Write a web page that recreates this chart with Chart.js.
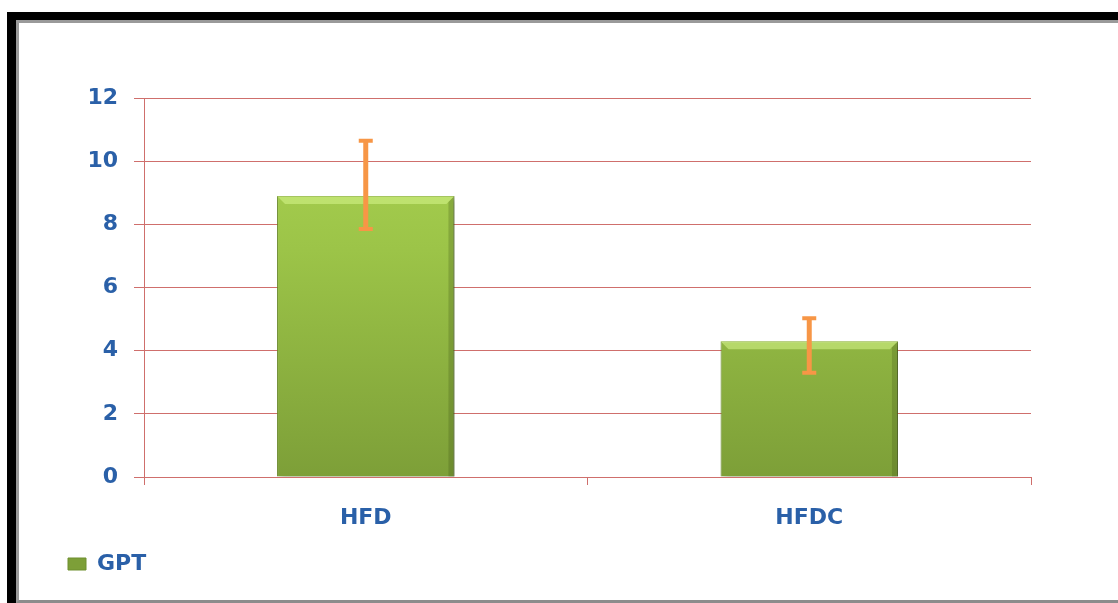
<!DOCTYPE html>
<html>
<head>
<meta charset="utf-8">
<script src="https://cdn.jsdelivr.net/npm/chart.js@4/dist/chart.umd.min.js"></script>
<style>
  html, body { margin: 0; padding: 0; background: #fff; overflow: hidden; }
  #outer { position: absolute; left: 7px; top: 12px; width: 1200px; height: 700px;
           border-top: 8px solid #000; border-left: 9px solid #000; }
  #inner { position: absolute; left: 0; top: 0; width: 1200px; height: 577px;
           border-top: 3px solid #9a9a9a; border-left: 3px solid #9a9a9a; border-bottom: 3px solid #8c8c8c; }
  #wrap { position: absolute; left: 0; top: 0; width: 1118px; height: 603px; }
</style>
</head>
<body>
<div id="outer"><div id="inner"></div></div>
<div id="wrap"><canvas id="gptChart"></canvas></div>
<script>
const categories = ["HFD", "HFDC"];
const gptValues = [8.9, 4.3];
const errorHigh = [10.65, 5.03];
const errorLow = [7.85, 3.3];
const yTicks = [0, 2, 4, 6, 8, 10, 12];

const textBlue = "#2a60a8";
const gridRed = "#cf6f6c";
const labelFont = { family: "DejaVu Sans", size: 22, weight: "bold" };

function barFill(context) {
    const area = context.chart.chartArea;
    if (!area) return "#96c147";
    const g = context.chart.ctx.createLinearGradient(0, area.top, 0, area.bottom);
    g.addColorStop(0, "#acd553");
    g.addColorStop(0.4, "#9cc448");
    g.addColorStop(1, "#7d9f38");
    return g;
}

// soft shadow under the bars
const barShadow = {
    id: "barShadow",
    beforeDatasetDraw(chart) {
        const ctx = chart.ctx;
        ctx.save();
        ctx.shadowColor = "rgba(0,0,0,0.35)";
        ctx.shadowBlur = 6;
        ctx.shadowOffsetX = 3;
        ctx.shadowOffsetY = 3;
    },
    afterDatasetDraw(chart) {
        chart.ctx.restore();
        // bevel highlight along the top
        const ctx = chart.ctx;
        chart.getDatasetMeta(0).data.forEach(function (bar) {
            const half = bar.width / 2;
            ctx.save();
            ctx.fillStyle = "rgba(215,245,140,0.55)";
            ctx.beginPath();
            ctx.moveTo(bar.x - half, bar.y);
            ctx.lineTo(bar.x + half, bar.y);
            ctx.lineTo(bar.x + half - 8, bar.y + 8);
            ctx.lineTo(bar.x - half + 8, bar.y + 8);
            ctx.closePath();
            ctx.fill();
            ctx.fillStyle = "rgba(60,80,20,0.25)";
            ctx.beginPath();
            ctx.moveTo(bar.x + half, bar.y);
            ctx.lineTo(bar.x + half, bar.base);
            ctx.lineTo(bar.x + half - 6, bar.base);
            ctx.lineTo(bar.x + half - 6, bar.y + 6);
            ctx.closePath();
            ctx.fill();
            ctx.restore();
        });
    }
};

const errorBars = {
    id: "errorBars",
    afterDatasetsDraw(chart) {
        const ctx = chart.ctx;
        const meta = chart.getDatasetMeta(0);
        const y = chart.scales.y;
        ctx.save();
        ctx.strokeStyle = "#f79646";
        ctx.lineCap = "butt";
        meta.data.forEach(function (bar, i) {
            const top = y.getPixelForValue(errorHigh[i]);
            const bottom = y.getPixelForValue(errorLow[i]);
            ctx.lineWidth = 5;
            ctx.beginPath();
            ctx.moveTo(bar.x, top);
            ctx.lineTo(bar.x, bottom);
            ctx.stroke();
            ctx.lineWidth = 4;
            ctx.beginPath();
            ctx.moveTo(bar.x - 7, top);
            ctx.lineTo(bar.x + 7, top);
            ctx.moveTo(bar.x - 7, bottom);
            ctx.lineTo(bar.x + 7, bottom);
            ctx.stroke();
        });
        ctx.restore();
    }
};

new Chart(document.getElementById("gptChart"), {
    type: "bar",
    data: {
        labels: categories,
        datasets: [
            {
                label: "GPT",
                data: gptValues,
                backgroundColor: barFill,
                borderColor: "#6e8f2e",
                borderWidth: 1,
                barPercentage: 0.4,
                categoryPercentage: 1.0
            }
        ]
    },
    options: {
        responsive: true,
        maintainAspectRatio: false,
        animation: false,
        layout: {
            padding: { left: 60, top: 98, right: 87, bottom: 18 }
        },
        scales: {
            x: {
                grid: {
                    drawOnChartArea: false,
                    drawTicks: true,
                    tickLength: 8,
                    color: gridRed
                },
                border: { color: gridRed },
                ticks: {
                    color: textBlue,
                    padding: 20,
                    font: labelFont
                },
                afterFit: function (scale) { scale.height = 68; }
            },
            y: {
                min: 0,
                max: 12,
                afterBuildTicks: function (scale) {
                    scale.ticks = yTicks.map(function (v) { return { value: v }; });
                },
                grid: {
                    color: gridRed,
                    tickLength: 10
                },
                border: { color: gridRed },
                ticks: {
                    color: textBlue,
                    padding: 16,
                    font: labelFont
                },
                afterFit: function (scale) { scale.width = 84; }
            }
        },
        plugins: {
            legend: {
                position: "bottom",
                align: "start",
                labels: {
                    color: textBlue,
                    boxWidth: 18,
                    boxHeight: 12,
                    padding: 8,
                    font: labelFont
                }
            },
            tooltip: { enabled: false }
        }
    },
    plugins: [barShadow, errorBars]
});
</script>
</body>
</html>
